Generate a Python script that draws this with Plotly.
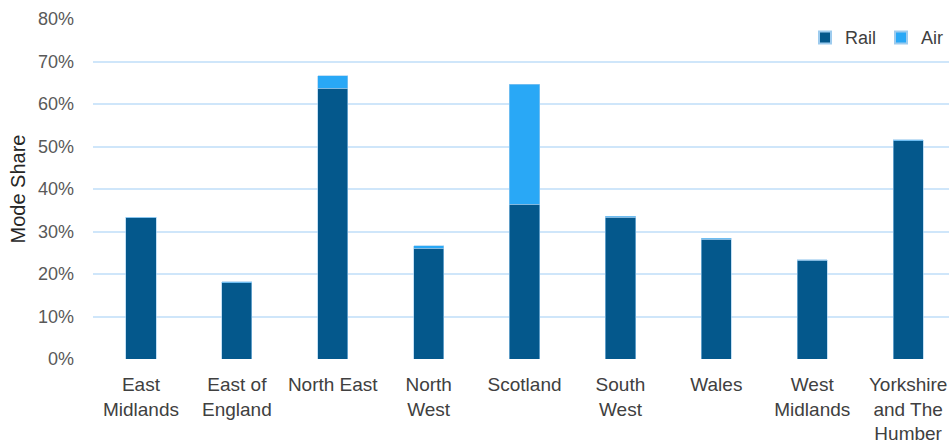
import plotly.graph_objects as go

regions = ["East<br>Midlands", "East of<br>England", "North East", "North<br>West", "Scotland",
           "South<br>West", "Wales", "West<br>Midlands", "Yorkshire<br>and The<br>Humber"]
rail = [33.2, 18.0, 63.7, 26.1, 36.4, 33.4, 28.2, 23.2, 51.3]
air = [0.1, 0.2, 3.0, 0.5, 28.2, 0.2, 0.2, 0.2, 0.3]

RAIL_COLOR = "#04588C"
AIR_COLOR = "#29A8F6"
FONT = "Liberation Sans"

fig = go.Figure()
fig.add_trace(go.Bar(name="Rail", x=list(range(len(regions))), y=rail,
                     marker=dict(color=RAIL_COLOR, line=dict(color="#9DCBEE", width=0.6))))
fig.add_trace(go.Bar(name="Air", x=list(range(len(regions))), y=air,
                     marker=dict(color=AIR_COLOR, line=dict(color="#9DCBEE", width=0.6))))

fig.update_layout(
    barmode="stack",
    bargap=0.685,
    width=949, height=444,
    margin=dict(l=93, r=0, t=19, b=85),
    paper_bgcolor="white", plot_bgcolor="white",
    font=dict(family=FONT, size=17, color="#595959"),
    legend=dict(orientation="h", x=1.0, xanchor="right", y=0.945, yanchor="middle",
                font=dict(size=18, color="#404040"), itemsizing="constant",
                itemwidth=30, tracegroupgap=0,
                bgcolor="rgba(255,255,255,1)", traceorder="normal"),
    xaxis=dict(tickmode="array", tickvals=list(range(len(regions))), ticktext=regions,
               range=[-0.5, 8.426], showgrid=False, zeroline=False, showline=False,
               ticks="", ticklabelstandoff=12, tickfont=dict(size=19, color="#404040")),
    yaxis=dict(range=[0, 80], dtick=10, ticksuffix="%", showgrid=True,
               gridcolor="#CFE6FA", gridwidth=1.5, zeroline=False, showline=False,
               ticks="", ticklabelstandoff=18,
               title=dict(text="Mode Share", font=dict(size=20, color="#262626"), standoff=6),
               tickfont=dict(size=18, color="#595959")),
)

fig.write_html("out.html")
